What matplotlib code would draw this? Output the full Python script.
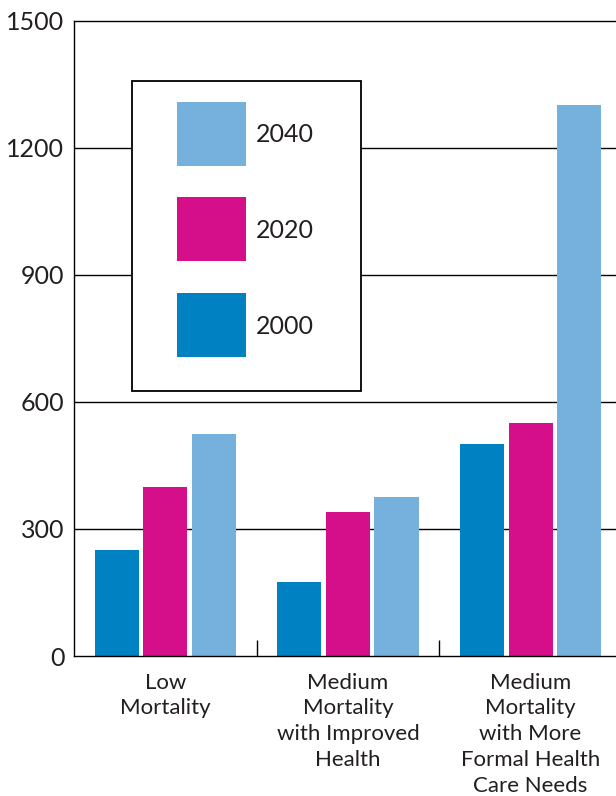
import numpy as np
import matplotlib
matplotlib.use('Agg')
import matplotlib.pyplot as plt
from matplotlib.patches import Rectangle

plt.rcParams['font.family'] = ['Lato', 'DejaVu Sans']

# data
scenarios = ['Low\nMortality',
             'Medium\nMortality\nwith Improved\nHealth',
             'Medium\nMortality\nwith More\nFormal Health\nCare Needs']
years = ['2000', '2020', '2040']
vals_2000 = [250, 175, 500]
vals_2020 = [400, 340, 550]
vals_2040 = [525, 375, 1300]
colors = ['#0081C2', '#D50F8A', '#76B1DD']
yticks = [0, 300, 600, 900, 1200, 1500]

W, H = 616, 796
fig = plt.figure(figsize=(W / 100, H / 100), dpi=100)
ax = fig.add_axes([74 / W, 1 - 656 / H, 1 - 74 / W, (656 - 20.7) / H])

txt = '#231F20'
x = np.arange(len(scenarios))
step = 0.266
bw = 0.241
series = [vals_2000, vals_2020, vals_2040]
for i, (vals, c) in enumerate(zip(series, colors)):
    ax.bar(x + (i - 1) * step, vals, width=bw, color=c, zorder=2)

ax.set_ylim(0, 1500)
ax.set_xlim(-0.5, 2.468)
ax.set_yticks(yticks)
ax.set_yticklabels([str(v) for v in yticks], fontsize=18, color=txt)
ax.tick_params(axis='y', length=0, pad=7)
for v in yticks[1:-1]:
    ax.axhline(v, color='black', lw=1.0, zorder=1)

ax.set_xticks(x)
ax.set_xticklabels(scenarios, fontsize=16, color=txt, linespacing=1.36, va='top')
ax.tick_params(axis='x', which='major', length=0, pad=12)
ax.set_xticks([0.5, 1.5], minor=True)
ax.tick_params(axis='x', which='minor', direction='in', length=11.5, width=1.0)

for s in ['left', 'top', 'bottom']:
    ax.spines[s].set_linewidth(1.0)
ax.spines['right'].set_visible(False)

# legend box drawn in figure pixels
def fx(px):
    return px / W

def fy(py):
    return 1 - py / H

fig.patches.append(Rectangle((fx(131.5), fy(391)), fx(361) - fx(131.5), fy(80.5) - fy(391),
                             transform=fig.transFigure, facecolor='white',
                             edgecolor='black', lw=1.3, zorder=5))
rows = [(102, '2040', colors[2]), (197, '2020', colors[1]), (293, '2000', colors[0])]
for top, lab, c in rows:
    fig.patches.append(Rectangle((fx(177), fy(top + 64)), fx(246) - fx(177), fy(top) - fy(top + 64),
                                 transform=fig.transFigure, facecolor=c, edgecolor='none', zorder=6))
    fig.text(fx(256), fy(top + 33), lab, fontsize=18, color=txt, va='center', ha='left', zorder=7)

fig.savefig('out.png', dpi=100)
